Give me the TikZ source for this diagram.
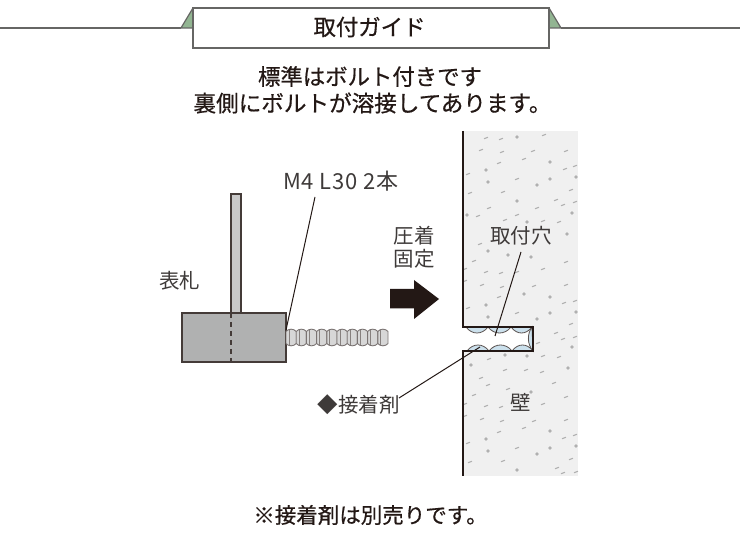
\documentclass[tikz,border=0pt]{standalone}
\usepackage{fontspec}
\setmainfont{Noto Sans CJK JP}
\newfontfamily\strongjp[FakeBold=0.6]{Noto Sans CJK JP}
\newfontfamily\spacedjp[LetterSpace=4]{Noto Sans CJK JP}
\usetikzlibrary{calc}
\definecolor{ink}{HTML}{231815}
\definecolor{txt}{HTML}{3E3A39}
\definecolor{hdr}{HTML}{666664}
\definecolor{grn}{HTML}{92B592}
\definecolor{wallc}{HTML}{F0F0F0}
\definecolor{speck}{HTML}{B0B0B0}
\definecolor{plate}{HTML}{B0B1B1}
\definecolor{stem}{HTML}{C9C9C9}
\definecolor{glue}{HTML}{CBE0EC}
\tikzset{
  hline/.style={draw=hdr,line width=1.4pt},
  wedge/.style={fill=grn,draw=hdr,line width=1.2pt,line join=round},
  titlebox/.style={draw=hdr,line width=1.4pt,fill=white,minimum width=356pt,minimum height=40pt,inner sep=0pt},
  headtext/.style={font=\strongjp\fontsize{22.4}{22}\selectfont,text=ink,inner sep=0pt},
  bigtext/.style={font=\strongjp\fontsize{22.4}{25}\selectfont,text=ink,inner sep=0pt,align=center},
  label/.style={font=\fontsize{20.5}{23}\selectfont,text=txt,inner sep=0pt,align=center},
  leader/.style={draw=ink,line width=1pt},
  wallline/.style={draw=ink,line width=2pt},
  part/.style={draw=ink!85,line width=1.3pt},
  lobe/.style={fill=glue,draw=ink!75,line width=.8pt},
  dotmark/.style={fill=speck,draw=none},
  dashmark/.style={draw=speck,line width=1.1pt}
}
\begin{document}
\begin{tikzpicture}[x=1pt,y=-1pt]
\useasboundingbox (0,0) rectangle (740,540);
% header
\coordinate (hl) at (0,28);
\coordinate (hr) at (740,28);
\coordinate (wl) at (181,28);
\coordinate (wr) at (561,28);
\draw[hline] (hl) -- (wl);
\draw[hline] (wr) -- (hr);
\filldraw[wedge] (181,28) -- (193,8) -- (193,28) -- cycle;
\filldraw[wedge] (561,28) -- (549,8) -- (549,28) -- cycle;
\node[titlebox] (title) at (371,28) {};
\node[headtext] (titletext) at (369.5,27) {取付ガイド};
% intro
\node[bigtext] (intro1) at (370,76.5) {標準はボルト付きです};
\node[bigtext,font=\strongjp\fontsize{22.6}{25}\selectfont] (intro2) at (372.5,103) {裏側にボルトが溶接してあります。};
% wall
\fill[wallc] (463,131) rectangle (578,476);
\foreach \x/\y in {517/137,550/162,486/170,488/182,550/179,537/185,576/177,517/201,572/213,467/215,527/222,567/234,
 488/251,508/255,531/257,550/297,486/305,576/312,488/317,550/313,537/319,524/294,
 572/347,505/355,527/356,471/365,568/368,531/392,550/431,486/439,576/446,488/451,550/448,537/454,517/470}
  \fill[dotmark] (\x,\y) circle (1.9pt);
\foreach \x/\y in {486/138,501/139,544/135,481/150,502/152,533/151,566/151,524/159,499/163,565/169,575/166,468/174,517/179,503/192,470/193,571/190,556/200,563/205,575/202,489/208,537/208,478/216,517/215,505/220,543/221,559/222,
 480/244,474/261,566/262,465/269,486/272,501/273,517/272,543/269,465/281,482/285,502/287,534/286,566/285,499/297,575/301,564/303,468/308,517/313,571/324,
 556/333,563/339,575/337,538/343,489/359,543/356,559/357,505/370,526/370,542/372,481/378,488/385,554/383,508/389,474/395,566/397,465/404,486/406,501/407,543/404,465/416,482/419,502/421,534/421,566/420,524/428,499/432,575/435,564/438,468/443,517/448,571/459,503/461,470/462,557/468,563/473,576/472}
  \draw[dashmark] (\x-2,\y+.7) -- (\x+2,\y-.7);
% hole
\fill[white] (462,327) rectangle (533,351);
\draw[lobe] (466,327) .. controls (472,335) and (482,335) .. (488,327);
\draw[lobe] (488,327) .. controls (494,335) and (505,335) .. (511,327);
\draw[lobe] (511,327) .. controls (517,335) and (526,335) .. (532,327);
\draw[lobe] (467,351) .. controls (473,343) and (483,343) .. (489,351);
\draw[lobe] (489,351) .. controls (495,343) and (506,343) .. (512,351);
\draw[lobe] (512,351) .. controls (518,343) and (527,343) .. (533,351);
\draw[lobe] (532,327) .. controls (527,334) and (527,344) .. (533,351) -- cycle;
\draw[wallline] (463,131) -- (463,327) -- (533,327) -- (533,351) -- (463,351) -- (463,476);
% plate and stem
\filldraw[part,fill=stem] (231,194) rectangle (241,313);
\filldraw[part,fill=plate] (182,313) rectangle (286,362);
\draw[part,dash pattern=on 5pt off 4pt] (231,313) -- (231,362);
% bolt
\foreach \i in {0,...,9}{
  \filldraw[fill=stem!75,draw=ink!60,line width=.9pt]
    ({286+10.2*\i},331.5) .. controls ({288.5+10.2*\i},328.4) and ({293.7+10.2*\i},328.4) .. ({296.2+10.2*\i},331.5)
    -- ({296.2+10.2*\i},343.5) .. controls ({293.7+10.2*\i},346.6) and ({288.5+10.2*\i},346.6) .. ({286+10.2*\i},343.5) -- cycle;
  \draw[draw=ink!55,line width=.7pt] ({289+10.2*\i},330) -- ({289+10.2*\i},345);
}
% arrow
\fill[ink] (390,289) -- (414,289) -- (414,280) -- (439,299) -- (414,319) -- (414,308.5) -- (390,308.5) -- cycle;
% labels
\node[label,font=\spacedjp\fontsize{22}{24}\selectfont] (boltlabel) at (341,181) {M4 L30 2本};
\node[label] (fixlabel) at (414,247.5) {圧着\\固定};
\node[label] (plabel) at (179.5,280.5) {表札};
\node[label] (holelabel) at (521,236) {取付穴};
\node[label] (gluelabel) at (358.5,404.5) {◆接着剤};
\node[label] (walllabel) at (521,402.5) {壁};
\node[bigtext,font=\strongjp\fontsize{21.5}{24}\selectfont] (note) at (370.5,515) {※接着剤は別売りです。};
% leaders
\coordinate (b1) at (315,197);
\coordinate (b2) at (286,330);
\coordinate (h1) at (521,252);
\coordinate (h2) at (495,336);
\coordinate (g1) at (399,398);
\coordinate (g2) at (480,347);
\draw[leader] (b1) -- (b2);
\draw[leader] (h1) -- (h2);
\draw[leader] (g1) -- (g2);
\end{tikzpicture}
\end{document}
